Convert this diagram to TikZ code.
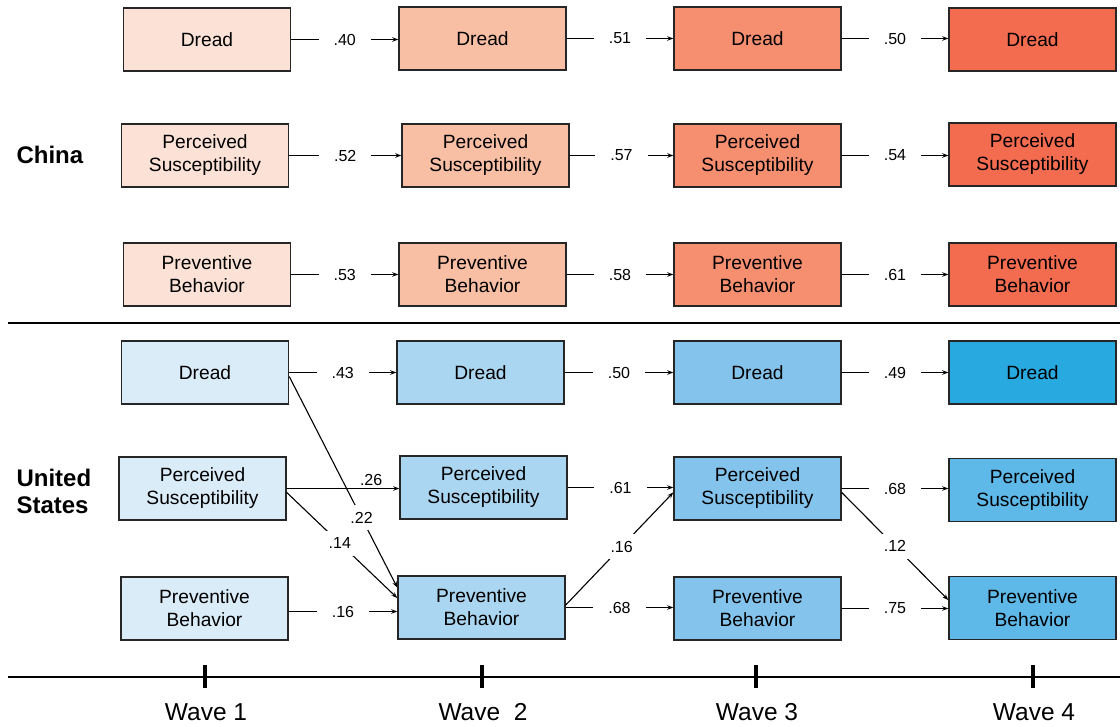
\documentclass[tikz,border=0pt]{standalone}
\usepackage{fontspec}
\setmainfont{Liberation Sans}
\usetikzlibrary{arrows.meta}
\definecolor{cA}{HTML}{FCE2D6}
\definecolor{cB}{HTML}{F9BFA5}
\definecolor{cC}{HTML}{F68E70}
\definecolor{cD}{HTML}{F36C50}
\definecolor{uA}{HTML}{DBECF9}
\definecolor{uB}{HTML}{AAD6F1}
\definecolor{uC}{HTML}{84C4EC}
\definecolor{uD}{HTML}{28AAE1}
\definecolor{uE}{HTML}{5EB8E8}
\definecolor{edge}{HTML}{262626}
\tikzset{
  box/.style={draw=edge, line width=1.5pt, minimum width=167pt, minimum height=63pt,
    inner sep=0pt, align=center, font=\fontsize{19.2}{23}\selectfont},
  arr/.style={line width=1.1pt, draw=black, -{Stealth[length=6pt,width=4.5pt]}},
  lbl/.style={fill=white, inner xsep=15pt, inner ysep=3pt, font=\fontsize{16}{19}\selectfont},
  lbld/.style={fill=white, inner sep=7pt, font=\fontsize{16}{19}\selectfont},
  lbla/.style={inner sep=2pt, font=\fontsize{16}{19}\selectfont},
  country/.style={anchor=west, align=left, font=\fontsize{24}{27}\selectfont\bfseries},
  wave/.style={font=\fontsize{24.5}{28}\selectfont},
}
\begin{document}
\begin{tikzpicture}[x=1pt,y=-1pt]
\useasboundingbox (0,0) rectangle (1120,727);
% China
\node[box, fill=cA] (cd1) at (207,39.5) {Dread};
\node[box, fill=cB] (cd2) at (482.5,38.5) {Dread};
\node[box, fill=cC] (cd3) at (757.5,38.5) {Dread};
\node[box, fill=cD] (cd4) at (1032.5,39.5) {Dread};
\node[box, fill=cA] (cp1) at (205,155.5) {Perceived\\Susceptibility};
\node[box, fill=cB] (cp2) at (485.5,155.5) {Perceived\\Susceptibility};
\node[box, fill=cC] (cp3) at (757.5,155.5) {Perceived\\Susceptibility};
\node[box, fill=cD] (cp4) at (1032.5,154.5) {Perceived\\Susceptibility};
\node[box, fill=cA] (cb1) at (207,274.5) {Preventive\\Behavior};
\node[box, fill=cB] (cb2) at (482.5,274.5) {Preventive\\Behavior};
\node[box, fill=cC] (cb3) at (757.5,274.5) {Preventive\\Behavior};
\node[box, fill=cD] (cb4) at (1032.5,274.5) {Preventive\\Behavior};
\draw[arr] (cd1.east) -- node[lbl]{.40} (cd1.east -| cd2.west);
\draw[arr] (cd2.east) -- node[lbl]{.51} (cd2.east -| cd3.west);
\draw[arr] (cd3.east) -- node[lbl]{.50} (cd3.east -| cd4.west);
\draw[arr] (cp1.east) -- node[lbl]{.52} (cp1.east -| cp2.west);
\draw[arr] (cp2.east) -- node[lbl]{.57} (cp2.east -| cp3.west);
\draw[arr] (cp3.east) -- node[lbl]{.54} (cp3.east -| cp4.west);
\draw[arr] (cb1.east) -- node[lbl]{.53} (cb1.east -| cb2.west);
\draw[arr] (cb2.east) -- node[lbl]{.58} (cb2.east -| cb3.west);
\draw[arr] (cb3.east) -- node[lbl]{.61} (cb3.east -| cb4.west);
\node[country] (china) at (13,155) {China};
% separator
\coordinate (sepL) at (8,323);
\coordinate (sepR) at (1120,323);
\draw[line width=1.8pt] (sepL) -- (sepR);
% United States
\node[box, fill=uA] (ud1) at (205,372.5) {Dread};
\node[box, fill=uB] (ud2) at (480.5,372.5) {Dread};
\node[box, fill=uC] (ud3) at (757.5,372.5) {Dread};
\node[box, fill=uD] (ud4) at (1032.5,372.5) {Dread};
\node[box, fill=uA] (up1) at (202.5,488.5) {Perceived\\Susceptibility};
\node[box, fill=uB] (up2) at (483.5,487.5) {Perceived\\Susceptibility};
\node[box, fill=uC] (up3) at (757.5,488.5) {Perceived\\Susceptibility};
\node[box, fill=uE] (up4) at (1032.5,490) {Perceived\\Susceptibility};
\node[box, fill=uA] (ub1) at (204.5,608.5) {Preventive\\Behavior};
\node[box, fill=uB] (ub2) at (481.5,607.5) {Preventive\\Behavior};
\node[box, fill=uC] (ub3) at (757.5,608.5) {Preventive\\Behavior};
\node[box, fill=uE] (ub4) at (1032.5,608) {Preventive\\Behavior};
\draw[arr] (ud1.east) -- node[lbl]{.43} (ud1.east -| ud2.west);
\draw[arr] (ud2.east) -- node[lbl]{.50} (ud2.east -| ud3.west);
\draw[arr] (ud3.east) -- node[lbl]{.49} (ud3.east -| ud4.west);
\draw[arr] (up1.east) -- node[lbla, above, pos=0.75]{.26} (up1.east -| up2.west);
\draw[arr] (up2.east) -- node[lbl]{.61} (up2.east -| up3.west);
\draw[arr] (up3.east) -- node[lbl]{.68} (up3.east -| up4.west);
\draw[arr] ([yshift=-3pt]ub1.east) -- node[lbl]{.16} ([yshift=-3pt]ub1.east -| ub2.west);
\draw[arr] (ub2.east) -- node[lbl]{.68} (ub2.east -| ub3.west);
\draw[arr] (ub3.east) -- node[lbl]{.75} (ub3.east -| ub4.west);
% cross-lagged paths
\draw[arr] ([yshift=-4pt]ud1.east) -- node[lbld, pos=0.67]{.22} ([yshift=20pt]ub2.west);
\draw[arr] ([yshift=-4pt]up1.east) -- node[lbld, pos=0.48]{.14} ([yshift=9.5pt]ub2.west);
\draw[arr] ([yshift=2.5pt]ub2.east) -- node[lbld, pos=0.52]{.16} ([yshift=-4pt]up3.west);
\draw[arr] ([yshift=-4pt]up3.east) -- node[lbld, pos=0.5]{.12} ([yshift=8pt]ub4.west);
\node[country] (us) at (13,491) {United\\States};
% time axis
\coordinate (axL) at (8,677);
\coordinate (axR) at (1120,677);
\draw[line width=2.4pt] (axL) -- (axR);
\foreach \x/\n/\t in {205/w1/Wave 1, 482/w2/Wave\ \ 2, 756/w3/Wave 3, 1033/w4/Wave 4}{
  \coordinate (\n top) at (\x,665);
  \coordinate (\n bot) at (\x,688);
  \draw[line width=3.2pt] (\n top) -- (\n bot);
  \node[wave] (\n) at (\x+1,712) {\t};
}
\end{tikzpicture}
\end{document}
